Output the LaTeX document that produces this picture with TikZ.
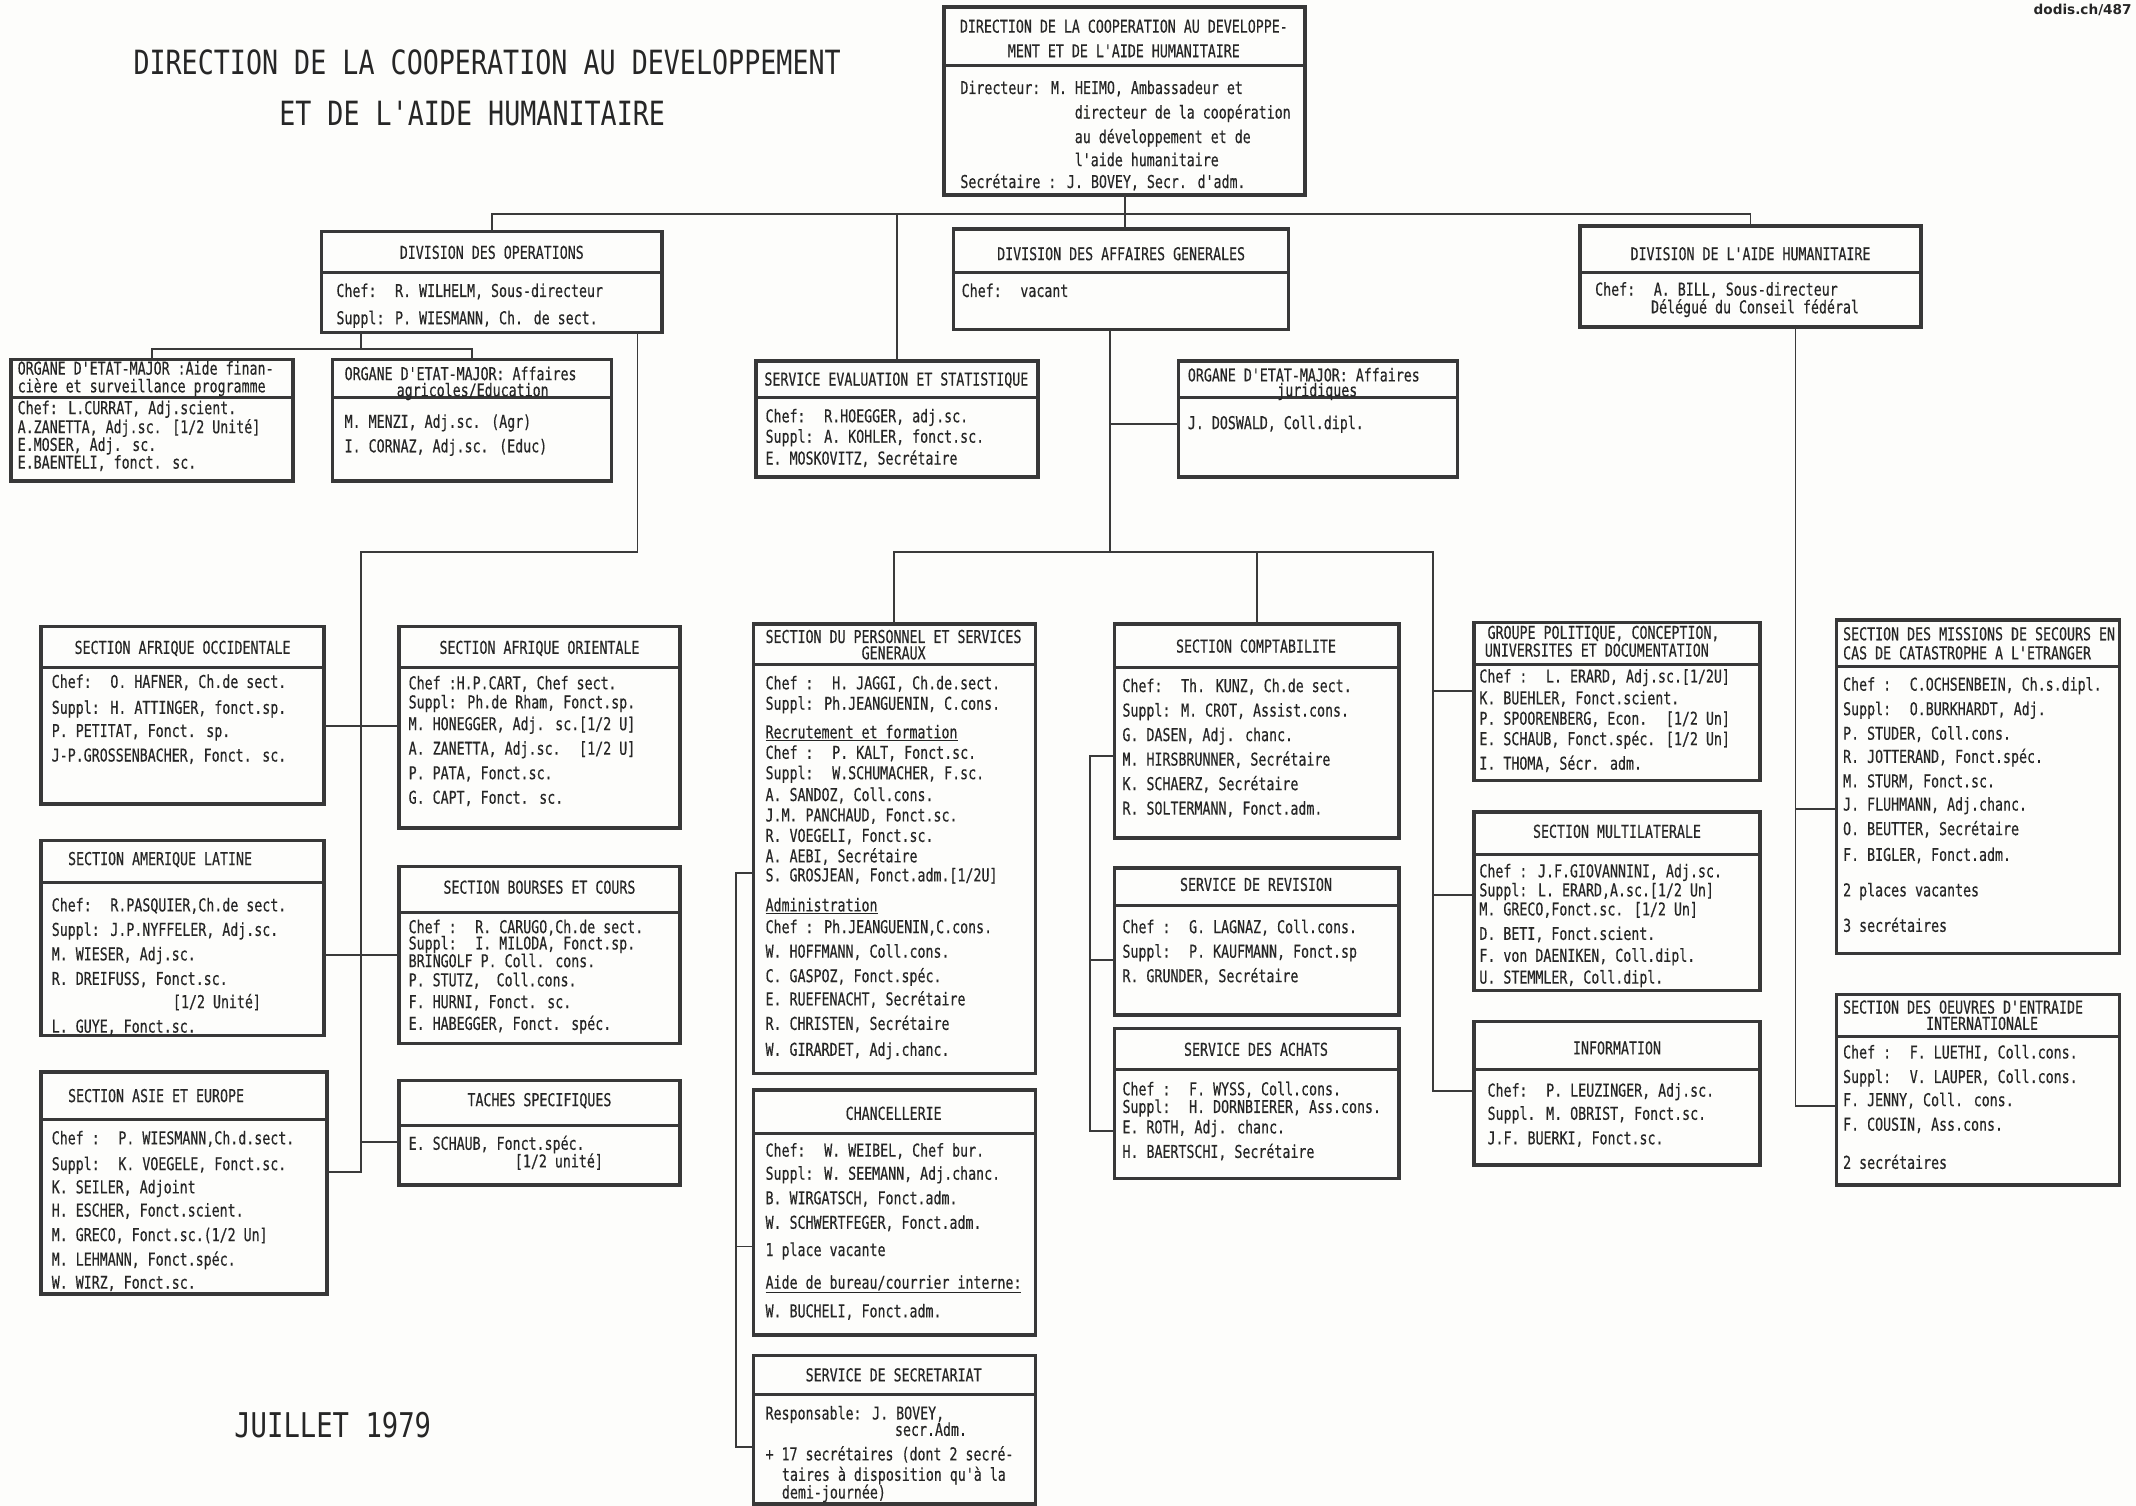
\documentclass[tikz,border=0pt]{standalone}
\usepackage{fontspec}
\newfontfamily\bodyfamily{DejaVu Sans Mono}[FakeStretch=0.75,FakeBold=0.4]
\newfontfamily\titlefamily{DejaVu Sans Mono}[FakeStretch=0.8]
\newfontfamily\wmfamily{DejaVu Sans}
\newcommand\bodyfont{\bodyfamily\fontsize{13}{13}\selectfont}
\definecolor{ink}{HTML}{262626}
\definecolor{boxc}{HTML}{383838}
\definecolor{linec}{HTML}{3A3A3A}
\definecolor{paper}{HTML}{FDFDFB}
\newcounter{tn}
\newcommand\Tleft[3]{\stepcounter{tn}\node[txt,anchor=base west,yshift=-4pt] (tx\arabic{tn}) at (#1,#2) {#3};}
\newcommand\Tcent[3]{\stepcounter{tn}\node[txt,anchor=base,yshift=-4pt] (tx\arabic{tn}) at (#1,#2) {#3};}
\newcommand\Obox[6]{%
  \node[obox, minimum width={#4-#2}, minimum height={#5-#3}, anchor=north west] (#1) at (#2,#3) {};
  \draw[sepline] (#1.west |- 0,#6) -- (#1.east |- 0,#6);}
\tikzset{
  obox/.style={draw=boxc, line width=2.6pt, rectangle, inner sep=0pt, outer sep=0pt, fill=paper},
  sepline/.style={draw=boxc, line width=2.2pt},
  conn/.style={draw=linec, line width=1.4pt},
  txt/.style={inner sep=0pt, outer sep=0pt, text=ink, font=\bodyfont},
  bigtxt/.style={inner sep=0pt, outer sep=0pt, text=ink, anchor=base west},
}
\begin{document}
\begin{tikzpicture}[x=1pt,y=-1pt]
\fill[paper] (0,0) rectangle (1568,1105.5);
\useasboundingbox (0,0) rectangle (1568,1105.5);

% titles
\node[bigtxt, font=\titlefamily\fontsize{24.5}{24.5}\selectfont] (title1) at (98,55) {DIRECTION DE LA COOPERATION AU DEVELOPPEMENT};
\node[bigtxt, font=\titlefamily\fontsize{24.5}{24.5}\selectfont] (title2) at (205,92) {ET DE L'AIDE HUMANITAIRE};
\node[bigtxt, font=\titlefamily\fontsize{25}{25}\selectfont] (date) at (172,1055) {JUILLET 1979};
\node[inner sep=0pt, anchor=base east, text=ink, font=\wmfamily\bfseries\fontsize{10}{10}\selectfont] (wm) at (1565,11) {dodis.ch/487};

% boxes
\Obox{top}{693}{5}{958}{143}{48}
\Obox{divops}{236}{170}{486}{244}{200}
\Obox{divag}{700}{168}{946}{242}{200}
\Obox{divah}{1160}{166}{1410}{240}{200}
\Obox{org1}{8}{264}{215}{353}{292}
\Obox{org2}{244}{264}{449}{353}{292}
\Obox{eval}{555}{265}{762}{350}{292}
\Obox{orgj}{865}{265}{1070}{350}{292}
\Obox{a1}{30}{460}{238}{590}{490}
\Obox{a2}{293}{460}{499}{608}{490}
\Obox{b1}{30}{617}{238}{760}{648}
\Obox{b2}{293}{636}{499}{766}{670}
\Obox{c1}{30}{787}{240}{950}{822}
\Obox{c2}{293}{793}{499}{870}{826}
\Obox{pers}{553}{458}{760}{788}{488}
\Obox{chanc}{553}{800}{760}{980}{832}
\Obox{secr}{553}{995}{760}{1104}{1024}
\Obox{compt}{818}{458}{1027}{615}{490}
\Obox{rev}{818}{637}{1027}{745}{665}
\Obox{achats}{818}{755}{1027}{865}{785}
\Obox{g1}{1082}{457}{1292}{573}{488}
\Obox{g2}{1082}{596}{1292}{727}{627}
\Obox{g3}{1082}{750}{1292}{855}{785}
\Obox{r1}{1348}{455}{1556}{700}{489}
\Obox{r2}{1348}{730}{1556}{870}{761}

% connectors
\coordinate (jb1) at (362,157);
\draw[conn] (top.south) -- (top.south |- divag.north);
\draw[conn] (divops.north) -- (divops.north |- jb1) -- (divah.north |- jb1) -- (divah.north);
\draw[conn] (eval.north) -- (eval.north |- jb1);
\coordinate (jo) at (265,256);
\draw[conn] (divops.south -| jo) -- (jo);
\draw[conn] (org1.north) -- (org1.north |- jo) -- (org2.north |- jo) -- (org2.north);
\coordinate (js1) at (468,405);
\coordinate (js2) at (265,405);
\coordinate (js3) at (265,860);
\draw[conn] (divops.south -| js1) -- (js1) -- (js2) -- (js3) -- (c1.east |- js3);
\draw[conn] (a1.east |- 0,533) -- (a2.west |- 0,533);
\draw[conn] (b1.east |- 0,701) -- (b2.west |- 0,701);
\draw[conn] (js2 |- 0,838) -- (c2.west |- 0,838);
\coordinate (jm1) at (815,405);
\coordinate (jm2) at (1052,405);
\draw[conn] (divag.south -| jm1) -- (jm1);
\draw[conn] (jm1 |- 0,311) -- (orgj.west |- 0,311);
\draw[conn] (pers.north) -- (pers.north |- jm1) -- (jm2) -- (jm2 |- 0,801) -- (g3.west |- 0,801);
\draw[conn] (compt.north) -- (compt.north |- jm1);
\draw[conn] (jm2 |- 0,507) -- (g1.west |- 0,507);
\draw[conn] (jm2 |- 0,657) -- (g2.west |- 0,657);
\coordinate (jc) at (800,555);
\draw[conn] (compt.west |- jc) -- (jc) -- (jc |- 0,830) -- (achats.west |- 0,830);
\draw[conn] (jc |- 0,705) -- (rev.west |- 0,705);
\coordinate (jp) at (540,641);
\draw[conn] (pers.west |- jp) -- (jp) -- (jp |- 0,1062) -- (secr.west |- 0,1062);
\draw[conn] (jp |- 0,915) -- (chanc.west |- 0,915);
\coordinate (jr) at (1318,594);
\draw[conn] (divah.south -| jr) -- (jr |- 0,812) -- (r2.west |- 0,812);
\draw[conn] (jr) -- (r1.west |- jr);

% top box
\Tcent{825}{20}{DIRECTION DE LA COOPERATION AU DEVELOPPE-}
\Tcent{825}{38}{MENT ET DE L'AIDE HUMANITAIRE}
\Tleft{705}{65}{Directeur: M. HEIMO, Ambassadeur et}
\Tleft{789}{83}{directeur de la coopération}
\Tleft{789}{101}{au développement et de}
\Tleft{789}{118}{l'aide humanitaire}
\Tleft{705}{134}{Secrétaire : J. BOVEY, Secr. d'adm.}

% divisions
\Tcent{361}{186}{DIVISION DES OPERATIONS}
\Tleft{247}{214}{Chef:~ R. WILHELM, Sous-directeur}
\Tleft{247}{234}{Suppl: P. WIESMANN, Ch. de sect.}
\Tcent{823}{187}{DIVISION DES AFFAIRES GENERALES}
\Tleft{706}{214}{Chef:~ vacant}
\Tcent{1285}{187}{DIVISION DE L'AIDE HUMANITAIRE}
\Tleft{1171}{213}{Chef:~ A. BILL, Sous-directeur}
\Tleft{1212}{226}{Délégué du Conseil fédéral}

% organes
\Tleft{13}{271}{ORGANE D'ETAT-MAJOR :Aide finan-}
\Tleft{13}{284}{cière et surveillance programme}
\Tleft{13}{300}{Chef: L.CURRAT, Adj.scient.}
\Tleft{13}{314}{A.ZANETTA, Adj.sc. [1/2 Unité]}
\Tleft{13}{327}{E.MOSER, Adj. sc.}
\Tleft{13}{340}{E.BAENTELI, fonct. sc.}
\Tleft{253}{275}{ORGANE D'ETAT-MAJOR: Affaires}
\Tcent{347}{287}{agricoles/Education}
\Tleft{253}{310}{M. MENZI, Adj.sc. (Agr)}
\Tleft{253}{328}{I. CORNAZ, Adj.sc. (Educ)}
\Tcent{658}{279}{SERVICE EVALUATION ET STATISTIQUE}
\Tleft{562}{306}{Chef:~ R.HOEGGER, adj.sc.}
\Tleft{562}{321}{Suppl: A. KOHLER, fonct.sc.}
\Tleft{562}{337}{E. MOSKOVITZ, Secrétaire}
\Tleft{872}{276}{ORGANE D'ETAT-MAJOR: Affaires}
\Tcent{967}{287}{juridiques}
\Tleft{872}{311}{J. DOSWALD, Coll.dipl.}

% left sections
\Tcent{134}{476}{SECTION AFRIQUE OCCIDENTALE}
\Tleft{38}{501}{Chef:~ O. HAFNER, Ch.de sect.}
\Tleft{38}{520}{Suppl: H. ATTINGER, fonct.sp.}
\Tleft{38}{537}{P. PETITAT, Fonct. sp.}
\Tleft{38}{555}{J-P.GROSSENBACHER, Fonct. sc.}
\Tcent{396}{476}{SECTION AFRIQUE ORIENTALE}
\Tleft{300}{502}{Chef :H.P.CART, Chef sect.}
\Tleft{300}{516}{Suppl: Ph.de Rham, Fonct.sp.}
\Tleft{300}{532}{M. HONEGGER, Adj. sc.[1/2 U]}
\Tleft{300}{550}{A. ZANETTA, Adj.sc.~ [1/2 U]}
\Tleft{300}{568}{P. PATA, Fonct.sc.}
\Tleft{300}{586}{G. CAPT, Fonct. sc.}
\Tleft{50}{631}{SECTION AMERIQUE LATINE}
\Tleft{38}{665}{Chef:~ R.PASQUIER,Ch.de sect.}
\Tleft{38}{683}{Suppl: J.P.NYFFELER, Adj.sc.}
\Tleft{38}{701}{M. WIESER, Adj.sc.}
\Tleft{38}{719}{R. DREIFUSS, Fonct.sc.}
\Tleft{127}{736}{[1/2 Unité]}
\Tleft{38}{754}{L. GUYE, Fonct.sc.}
\Tcent{396}{652}{SECTION BOURSES ET COURS}
\Tleft{300}{681}{Chef :~ R. CARUGO,Ch.de sect.}
\Tleft{300}{693}{Suppl:~ I. MILODA, Fonct.sp.}
\Tleft{300}{706}{BRINGOLF P. Coll. cons.}
\Tleft{300}{720}{P. STUTZ,~ Coll.cons.}
\Tleft{300}{736}{F. HURNI, Fonct. sc.}
\Tleft{300}{752}{E. HABEGGER, Fonct. spéc.}
\Tleft{50}{805}{SECTION ASIE ET EUROPE}
\Tleft{38}{836}{Chef :~ P. WIESMANN,Ch.d.sect.}
\Tleft{38}{855}{Suppl:~ K. VOEGELE, Fonct.sc.}
\Tleft{38}{872}{K. SEILER, Adjoint}
\Tleft{38}{889}{H. ESCHER, Fonct.scient.}
\Tleft{38}{907}{M. GRECO, Fonct.sc.(1/2 Un]}
\Tleft{38}{925}{M. LEHMANN, Fonct.spéc.}
\Tleft{38}{942}{W. WIRZ, Fonct.sc.}
\Tcent{396}{808}{TACHES SPECIFIQUES}
\Tleft{300}{840}{E. SCHAUB, Fonct.spéc.}
\Tleft{378}{853}{[1/2 unité]}

% personnel
\Tleft{562}{468}{SECTION DU PERSONNEL ET SERVICES}
\Tcent{656}{480}{GENERAUX}
\Tleft{562}{502}{Chef :~ H. JAGGI, Ch.de.sect.}
\Tleft{562}{517}{Suppl: Ph.JEANGUENIN, C.cons.}
\Tleft{562}{538}{\underline{Recrutement et formation}}
\Tleft{562}{553}{Chef :~ P. KALT, Fonct.sc.}
\Tleft{562}{568}{Suppl:~ W.SCHUMACHER, F.sc.}
\Tleft{562}{584}{A. SANDOZ, Coll.cons.}
\Tleft{562}{599}{J.M. PANCHAUD, Fonct.sc.}
\Tleft{562}{614}{R. VOEGELI, Fonct.sc.}
\Tleft{562}{629}{A. AEBI, Secrétaire}
\Tleft{562}{643}{S. GROSJEAN, Fonct.adm.[1/2U]}
\Tleft{562}{665}{\underline{Administration}}
\Tleft{562}{681}{Chef : Ph.JEANGUENIN,C.cons.}
\Tleft{562}{699}{W. HOFFMANN, Coll.cons.}
\Tleft{562}{717}{C. GASPOZ, Fonct.spéc.}
\Tleft{562}{734}{E. RUEFENACHT, Secrétaire}
\Tleft{562}{752}{R. CHRISTEN, Secrétaire}
\Tleft{562}{771}{W. GIRARDET, Adj.chanc.}
\Tcent{656}{818}{CHANCELLERIE}
\Tleft{562}{845}{Chef:~ W. WEIBEL, Chef bur.}
\Tleft{562}{862}{Suppl: W. SEEMANN, Adj.chanc.}
\Tleft{562}{880}{B. WIRGATSCH, Fonct.adm.}
\Tleft{562}{898}{W. SCHWERTFEGER, Fonct.adm.}
\Tleft{562}{918}{1 place vacante}
\Tleft{562}{942}{\underline{Aide de bureau/courrier interne:}}
\Tleft{562}{963}{W. BUCHELI, Fonct.adm.}
\Tcent{656}{1010}{SERVICE DE SECRETARIAT}
\Tleft{562}{1038}{Responsable: J. BOVEY,}
\Tleft{657}{1050}{secr.Adm.}
\Tleft{562}{1068}{+ 17 secrétaires (dont 2 secré-}
\Tleft{574}{1083}{taires à disposition qu'à la}
\Tleft{574}{1096}{demi-journée)}

% comptabilite
\Tcent{922}{475}{SECTION COMPTABILITE}
\Tleft{824}{504}{Chef:~ Th. KUNZ, Ch.de sect.}
\Tleft{824}{522}{Suppl: M. CROT, Assist.cons.}
\Tleft{824}{540}{G. DASEN, Adj. chanc.}
\Tleft{824}{558}{M. HIRSBRUNNER, Secrétaire}
\Tleft{824}{576}{K. SCHAERZ, Secrétaire}
\Tleft{824}{594}{R. SOLTERMANN, Fonct.adm.}
\Tcent{922}{650}{SERVICE DE REVISION}
\Tleft{824}{681}{Chef :~ G. LAGNAZ, Coll.cons.}
\Tleft{824}{699}{Suppl:~ P. KAUFMANN, Fonct.sp}
\Tleft{824}{717}{R. GRUNDER, Secrétaire}
\Tcent{922}{771}{SERVICE DES ACHATS}
\Tleft{824}{800}{Chef :~ F. WYSS, Coll.cons.}
\Tleft{824}{813}{Suppl:~ H. DORNBIERER, Ass.cons.}
\Tleft{824}{828}{E. ROTH, Adj. chanc.}
\Tleft{824}{846}{H. BAERTSCHI, Secrétaire}

% groupe / multilaterale / information
\Tleft{1092}{465}{GROUPE POLITIQUE, CONCEPTION,}
\Tleft{1090}{478}{UNIVERSITES ET DOCUMENTATION}
\Tleft{1086}{497}{Chef :~ L. ERARD, Adj.sc.[1/2U]}
\Tleft{1086}{513}{K. BUEHLER, Fonct.scient.}
\Tleft{1086}{528}{P. SPOORENBERG, Econ.~ [1/2 Un]}
\Tleft{1086}{543}{E. SCHAUB, Fonct.spéc. [1/2 Un]}
\Tleft{1086}{561}{I. THOMA, Sécr. adm.}
\Tcent{1187}{611}{SECTION MULTILATERALE}
\Tleft{1086}{640}{Chef : J.F.GIOVANNINI, Adj.sc.}
\Tleft{1086}{654}{Suppl: L. ERARD,A.sc.[1/2 Un]}
\Tleft{1086}{668}{M. GRECO,Fonct.sc. [1/2 Un]}
\Tleft{1086}{686}{D. BETI, Fonct.scient.}
\Tleft{1086}{702}{F. von DAENIKEN, Coll.dipl.}
\Tleft{1086}{718}{U. STEMMLER, Coll.dipl.}
\Tcent{1187}{770}{INFORMATION}
\Tleft{1092}{801}{Chef:~ P. LEUZINGER, Adj.sc.}
\Tleft{1092}{818}{Suppl. M. OBRIST, Fonct.sc.}
\Tleft{1092}{836}{J.F. BUERKI, Fonct.sc.}

% aide humanitaire sections
\Tleft{1353}{466}{SECTION DES MISSIONS DE SECOURS EN}
\Tleft{1353}{480}{CAS DE CATASTROPHE A L'ETRANGER}
\Tleft{1353}{503}{Chef :~ C.OCHSENBEIN, Ch.s.dipl.}
\Tleft{1353}{521}{Suppl:~ O.BURKHARDT, Adj.}
\Tleft{1353}{539}{P. STUDER, Coll.cons.}
\Tleft{1353}{556}{R. JOTTERAND, Fonct.spéc.}
\Tleft{1353}{574}{M. STURM, Fonct.sc.}
\Tleft{1353}{591}{J. FLUHMANN, Adj.chanc.}
\Tleft{1353}{609}{O. BEUTTER, Secrétaire}
\Tleft{1353}{628}{F. BIGLER, Fonct.adm.}
\Tleft{1353}{654}{2 places vacantes}
\Tleft{1353}{680}{3 secrétaires}
\Tleft{1353}{740}{SECTION DES OEUVRES D'ENTRAIDE}
\Tcent{1455}{752}{INTERNATIONALE}
\Tleft{1353}{773}{Chef :~ F. LUETHI, Coll.cons.}
\Tleft{1353}{791}{Suppl:~ V. LAUPER, Coll.cons.}
\Tleft{1353}{808}{F. JENNY, Coll. cons.}
\Tleft{1353}{826}{F. COUSIN, Ass.cons.}
\Tleft{1353}{854}{2 secrétaires}
\end{tikzpicture}
\end{document}
